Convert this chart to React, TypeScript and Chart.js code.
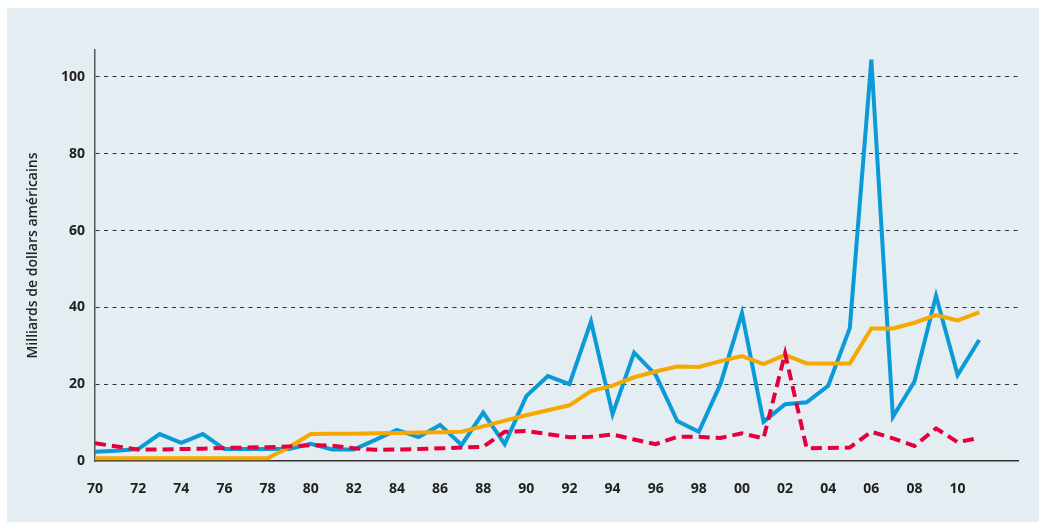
import React, { useEffect, useRef } from 'react';
import { Chart, registerables } from 'chart.js';

Chart.register(...registerables);

const years = [
  1970, 1971, 1972, 1973, 1974, 1975, 1976, 1977, 1978, 1979,
  1980, 1981, 1982, 1983, 1984, 1985, 1986, 1987, 1988, 1989,
  1990, 1991, 1992, 1993, 1994, 1995, 1996, 1997, 1998, 1999,
  2000, 2001, 2002, 2003, 2004, 2005, 2006, 2007, 2008, 2009,
  2010, 2011,
];

const blueSeries = [
  2.4, 2.7, 3.1, 7.0, 4.7, 7.0, 3.1, 3.1, 3.1, 3.1,
  4.5, 3.0, 3.0, 5.5, 8.1, 6.2, 9.4, 4.2, 12.6, 4.4,
  16.9, 22.1, 20.0, 36.3, 12.2, 28.2, 22.4, 10.4, 7.6, 20.0,
  38.5, 10.2, 14.8, 15.3, 19.6, 34.6, 104.5, 11.5, 20.7, 43.0,
  22.4, 31.5,
];

const orangeSeries = [
  0.7, 0.7, 0.7, 0.7, 0.7, 0.7, 0.7, 0.7, 0.7, 3.6,
  7.0, 7.1, 7.1, 7.2, 7.3, 7.4, 7.5, 7.6, 9.0, 10.5,
  11.9, 13.2, 14.5, 18.2, 19.6, 21.8, 23.3, 24.6, 24.5, 26.0,
  27.3, 25.2, 27.6, 25.4, 25.4, 25.4, 34.5, 34.5, 36.0, 38.0,
  36.6, 38.7,
];

const redSeries = [
  4.6, 3.8, 3.0, 3.0, 3.1, 3.2, 3.4, 3.5, 3.6, 3.8,
  4.1, 4.0, 3.3, 2.9, 3.0, 3.1, 3.3, 3.5, 3.7, 7.6,
  7.8, 7.0, 6.2, 6.3, 6.9, 5.6, 4.4, 6.3, 6.3, 6.0,
  7.2, 5.9, 28.0, 3.3, 3.4, 3.5, 7.6, 5.9, 3.9, 8.5,
  4.9, 6.0,
];

const xTickYears = [
  1970, 1972, 1974, 1976, 1978, 1980, 1982, 1984, 1986, 1988,
  1990, 1992, 1994, 1996, 1998, 2000, 2002, 2004, 2006, 2008, 2010,
];
const yTickValues = [0, 20, 40, 60, 80, 100];
const yAxisTitle = 'Milliards de dollars américains';

const toPoints = (vals: number[]) => years.map((yr, i) => ({ x: yr, y: vals[i] }));

const FONT = "'Open Sans', 'DejaVu Sans', sans-serif";

export default function App() {
  const ref = useRef<HTMLCanvasElement>(null);

  useEffect(() => {
    if (!ref.current) return;
    const chart = new Chart(ref.current, {
      type: 'line',
      data: {
        datasets: [
          {
            label: 'red',
            data: toPoints(redSeries),
            borderColor: '#e4003b',
            borderWidth: 4,
            borderDash: [11, 6],
            pointRadius: 0,
            fill: false,
            tension: 0,
          },
          {
            label: 'orange',
            data: toPoints(orangeSeries),
            borderColor: '#f5a800',
            borderWidth: 4,
            pointRadius: 0,
            fill: false,
            tension: 0,
          },
          {
            label: 'blue',
            data: toPoints(blueSeries),
            borderColor: '#0a9ad8',
            borderWidth: 4,
            pointRadius: 0,
            fill: false,
            tension: 0,
          },
        ],
      },
      options: {
        animation: false,
        responsive: false,
        devicePixelRatio: 1,
        layout: { padding: { top: 42, right: 21, bottom: 0, left: 0 } },
        plugins: {
          legend: { display: false },
          tooltip: { enabled: false },
        },
        scales: {
          x: {
            type: 'linear',
            min: 1970,
            max: 2012.8,
            afterBuildTicks: (s: any) => {
              s.ticks = xTickYears.map((v) => ({ value: v }));
            },
            afterFit: (s: any) => {
              s.height = 61;
            },
            grid: { display: false, drawTicks: false },
            border: { display: true, color: '#333', width: 1.5 },
            ticks: {
              autoSkip: false,
              maxRotation: 0,
              padding: 20,
              color: '#222',
              font: { family: FONT, size: 14, weight: '700' },
              callback: (v: any) => String(Number(v) % 100).padStart(2, '0'),
            },
          },
          y: {
            type: 'linear',
            min: 0,
            max: 107,
            afterBuildTicks: (s: any) => {
              s.ticks = yTickValues.map((v) => ({ value: v }));
            },
            afterFit: (s: any) => {
              s.width = 88;
            },
            grid: {
              drawTicks: false,
              color: (c: any) => (c.tick && c.tick.value === 0 ? 'rgba(0,0,0,0)' : '#333'),
              lineWidth: 1,
            },
            border: { display: true, color: '#555', width: 1.5, dash: [4, 4.5] },
            ticks: {
              padding: 10,
              color: '#222',
              font: { family: FONT, size: 14, weight: '700' },
            },
            title: {
              display: true,
              text: yAxisTitle,
              color: '#222',
              font: { family: FONT, size: 14, weight: '600' },
              padding: { top: 18, bottom: 0 },
            },
          },
        },
      },
    } as any);
    return () => chart.destroy();
  }, []);

  return (
    <div
      style={{
        position: 'absolute',
        left: 7,
        top: 8,
        width: 1032,
        height: 514,
        background: '#e4edf1',
      }}
    >
      <canvas
        ref={ref}
        width={1032}
        height={514}
        style={{ display: 'block', width: 1032, height: 514 }}
      />
    </div>
  );
}
